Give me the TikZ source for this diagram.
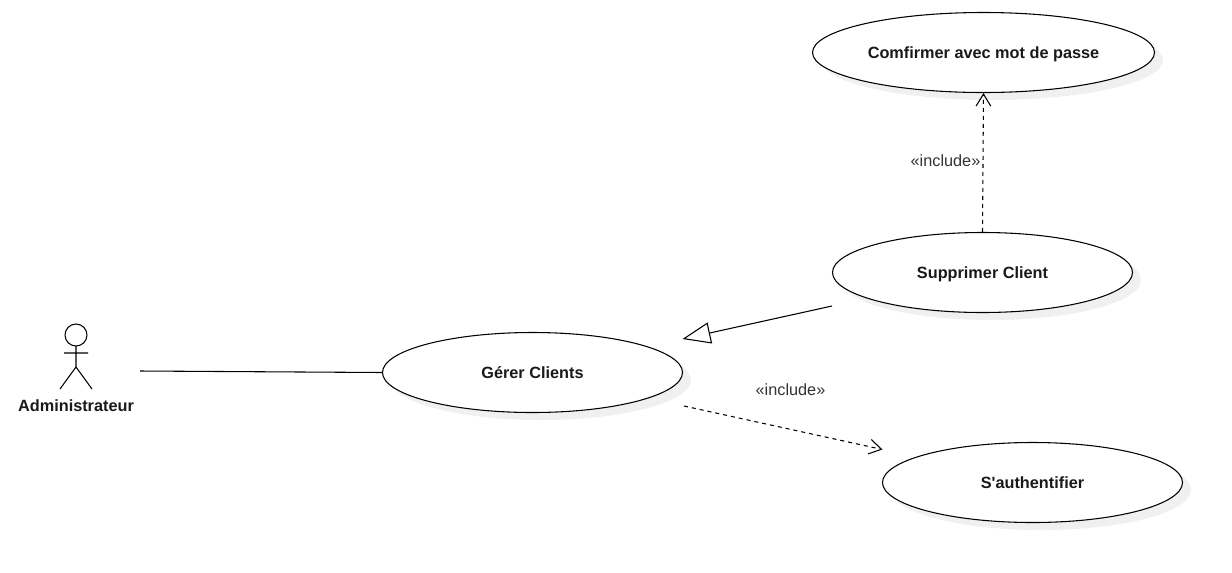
\documentclass[tikz,border=0pt]{standalone}
\usepackage{fontspec}
\setmainfont{Liberation Sans}
\usepackage{tikz}
\usetikzlibrary{arrows.meta, positioning, shapes.geometric}
\definecolor{shadowgray}{HTML}{F0F0F0}
\definecolor{labelgray}{HTML}{333333}
\tikzset{
  usecase/.style={ellipse,draw=black,fill=white,inner sep=0pt,minimum width=#1*0.75pt,minimum height=60pt,text height=8.9pt,text depth=0pt,font=\fontsize{12.2}{14}\bfseries\selectfont,text=black!90},
  usecase/.default=300,
  caseshadow/.style={fill=shadowgray,draw=none},
  includelabel/.style={font=\fontsize{12.2}{14}\selectfont,text=labelgray,inner sep=1pt},
  includeline/.style={dashed,dash pattern=on 3pt off 3pt,-{Straight Barb[length=9pt,width=11pt]}},
  genline/.style={-{Triangle[open,length=21pt,width=16pt]}},
}
\begin{document}
\begin{tikzpicture}[x=0.75pt,y=-0.75pt,line width=0.8pt]
  \useasboundingbox (0,0) rectangle (1232,572);
  % Shadows
  \fill[caseshadow] (992,60) ellipse [x radius=171,y radius=40];
  \fill[caseshadow] (991,280) ellipse [x radius=150,y radius=40];
  \fill[caseshadow] (541,380) ellipse [x radius=150,y radius=40];
  \fill[caseshadow] (1041,490) ellipse [x radius=150,y radius=40];
  % Use cases
  \node[usecase=342] (confirm) at (983.5,52.5) {Comfirmer avec mot de passe};
  \node[usecase] (delete) at (982.5,272.5) {Supprimer Client};
  \node[usecase] (manage) at (532.5,372.5) {Gérer Clients};
  \node[usecase] (login) at (1032.5,482.5) {S\textquotesingle authentifier};
  % Actor
  \draw (76,335) circle (11);
  \draw (76,346) -- (76,367) (64,353) -- (88,353) (60,389) -- (76,367) -- (92,389);
  \node[font=\fontsize{12.2}{14}\bfseries\selectfont,text=black!90,inner sep=0pt] (admin) at (76,405.5) {Administrateur};
  % Connectors
  \coordinate (adminEnd) at (140,371);
  \coordinate (deleteOut) at (832,306);
  \coordinate (manageIn) at (682.5,339);
  \coordinate (manageOut) at (684,406);
  \coordinate (loginIn) at (882.5,449.5);
  \draw (adminEnd) -- (manage.west);
  \draw[genline] (deleteOut) -- (manageIn);
  \draw[includeline] (manageOut) -- (loginIn);
  \draw[includeline] (delete.north) -- (confirm.south);
  % Labels
  \node[includelabel] (incUp) at (945.5,160.5) {«include»};
  \node[includelabel] (incDown) at (790.5,389.5) {«include»};
\end{tikzpicture}
\end{document}
